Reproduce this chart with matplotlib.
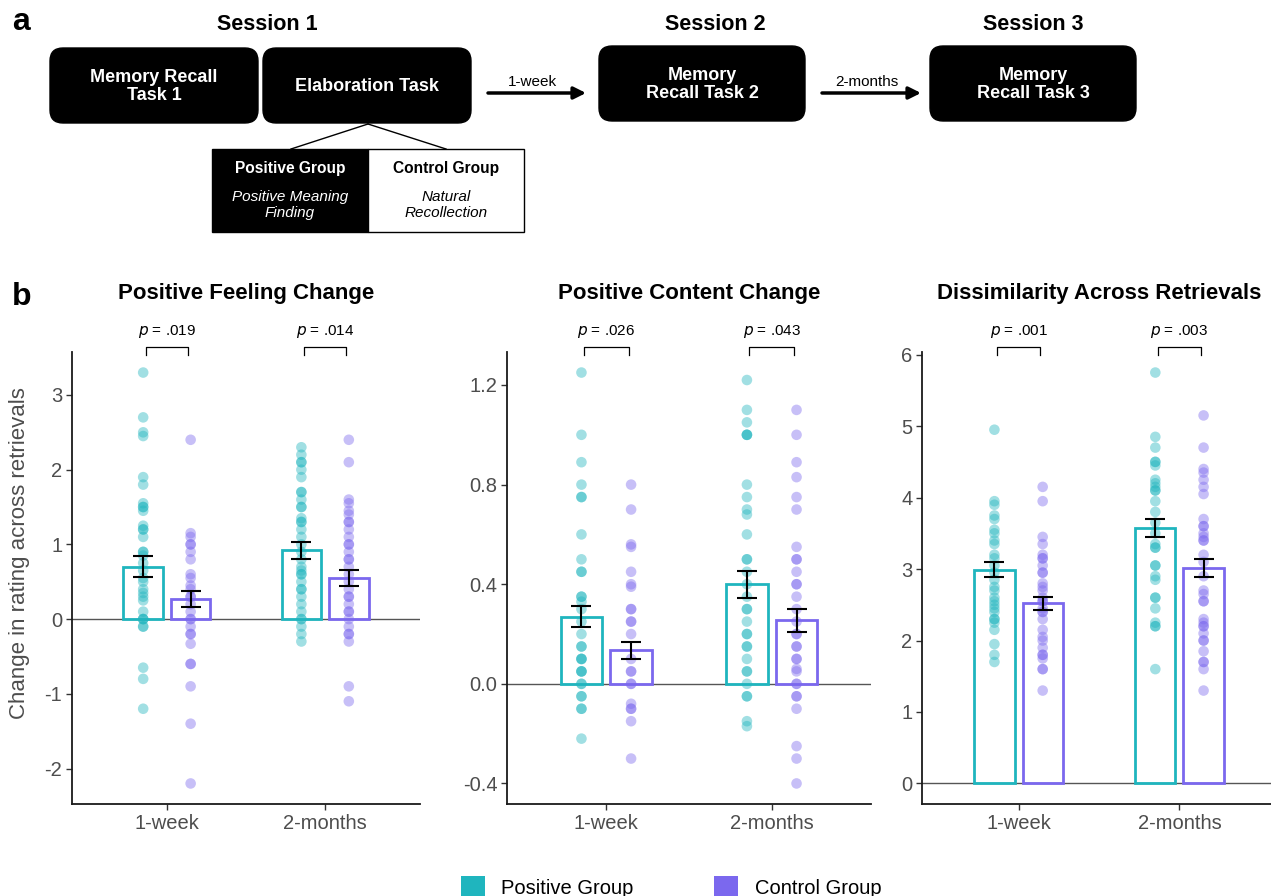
import matplotlib.pyplot as plt
from matplotlib.patches import FancyBboxPatch, Rectangle, Patch
import numpy as np

plt.rcParams['font.family'] = ['Liberation Sans', 'DejaVu Sans']

# 颜色
teal = '#1FB5BE'
purple = '#7B68EE'

timepoints = ['1-week', '2-months']
groups = ['Positive Group', 'Control Group']

# ---- Positive Feeling Change ----
feel_pos_1w = [3.3, 2.7, 2.5, 2.45, 1.9, 1.8, 1.55, 1.5, 1.5, 1.45, 1.25, 1.2, 1.2, 1.1, 0.9, 0.9,
               0.85, 0.75, 0.65, 0.55, 0.5, 0.4, 0.35, 0.3, 0.25, 0.1, 0, 0, 0, -0.1, -0.1, -0.65, -0.8, -1.2]
feel_ctrl_1w = [2.4, 1.15, 1.1, 1.0, 1.0, 0.9, 0.8, 0.6, 0.55, 0.45, 0.4, 0.3, 0.3, 0.2, 0.1, 0, 0,
                -0.1, -0.2, -0.2, -0.33, -0.6, -0.6, -0.9, -1.4, -2.2]
feel_pos_2m = [2.3, 2.2, 2.1, 2.1, 2.0, 1.9, 1.7, 1.7, 1.6, 1.5, 1.5, 1.35, 1.3, 1.3, 1.2, 1.1, 1.0,
               0.9, 0.8, 0.7, 0.65, 0.6, 0.6, 0.5, 0.4, 0.4, 0.3, 0.2, 0.1, 0, 0, -0.1, -0.2, -0.3]
feel_ctrl_2m = [2.4, 2.1, 1.6, 1.55, 1.45, 1.4, 1.3, 1.3, 1.2, 1.1, 1.0, 1.0, 0.9, 0.8, 0.8, 0.7, 0.6,
                0.5, 0.4, 0.3, 0.3, 0.2, 0.1, 0.1, 0, -0.1, -0.2, -0.2, -0.3, -0.9, -1.1]
feel_mean_pos = [0.70, 0.92]
feel_se_pos = [0.14, 0.11]
feel_mean_ctrl = [0.27, 0.55]
feel_se_ctrl = [0.11, 0.105]
feel_p = ['.019', '.014']

# ---- Positive Content Change ----
cont_pos_1w = [1.25, 1.0, 0.89, 0.8, 0.75, 0.75, 0.6, 0.5, 0.45, 0.45, 0.35, 0.35, 0.33, 0.3, 0.25,
               0.2, 0.15, 0.15, 0.1, 0.1, 0.1, 0.05, 0.05, 0.05, 0, 0, -0.05, -0.05, -0.1, -0.1, -0.22]
cont_ctrl_1w = [0.8, 0.7, 0.56, 0.55, 0.45, 0.4, 0.39, 0.3, 0.3, 0.25, 0.25, 0.2, 0.1, 0.05, 0.05,
                0, 0, -0.08, -0.1, -0.1, -0.15, -0.3]
cont_pos_2m = [1.22, 1.1, 1.05, 1.0, 1.0, 1.0, 0.8, 0.75, 0.7, 0.68, 0.6, 0.5, 0.5, 0.45, 0.4, 0.35,
               0.3, 0.3, 0.25, 0.2, 0.2, 0.15, 0.15, 0.1, 0.05, 0.05, 0, -0.05, -0.05, -0.15, -0.17]
cont_ctrl_2m = [1.1, 1.0, 0.89, 0.83, 0.75, 0.7, 0.55, 0.5, 0.5, 0.45, 0.4, 0.4, 0.35, 0.3, 0.25,
                0.2, 0.2, 0.15, 0.15, 0.1, 0.1, 0.06, 0.05, 0, 0, -0.05, -0.05, -0.1, -0.25, -0.3, -0.4]
cont_mean_pos = [0.27, 0.40]
cont_se_pos = [0.043, 0.055]
cont_mean_ctrl = [0.135, 0.255]
cont_se_ctrl = [0.035, 0.045]
cont_p = ['.026', '.043']

# ---- Dissimilarity Across Retrievals ----
diss_pos_1w = [4.95, 3.95, 3.9, 3.75, 3.7, 3.55, 3.5, 3.4, 3.35, 3.2, 3.15, 3.05, 2.95, 2.85, 2.75,
               2.7, 2.6, 2.55, 2.5, 2.45, 2.4, 2.3, 2.3, 2.25, 2.15, 1.95, 1.8, 1.7]
diss_ctrl_1w = [4.15, 3.95, 3.45, 3.35, 3.2, 3.15, 3.15, 3.05, 2.95, 2.95, 2.8, 2.75, 2.7, 2.6, 2.55,
                2.55, 2.45, 2.4, 2.4, 2.3, 2.15, 2.05, 2.0, 1.9, 1.8, 1.8, 1.75, 1.6, 1.6, 1.3]
diss_pos_2m = [5.75, 4.85, 4.7, 4.5, 4.5, 4.45, 4.25, 4.2, 4.15, 4.1, 4.1, 3.95, 3.8, 3.65, 3.5, 3.35,
               3.3, 3.3, 3.05, 3.05, 2.9, 2.85, 2.6, 2.6, 2.45, 2.25, 2.2, 2.2, 1.6]
diss_ctrl_2m = [5.15, 4.7, 4.4, 4.35, 4.25, 4.15, 4.05, 3.7, 3.6, 3.6, 3.5, 3.45, 3.4, 3.4, 3.2, 3.1,
                2.9, 2.7, 2.65, 2.55, 2.55, 2.3, 2.25, 2.2, 2.2, 2.1, 2.0, 2.0, 1.85, 1.7, 1.7, 1.6, 1.3]
diss_mean_pos = [2.99, 3.58]
diss_se_pos = [0.105, 0.125]
diss_mean_ctrl = [2.52, 3.01]
diss_se_ctrl = [0.09, 0.125]
diss_p = ['.001', '.003']

panels = [
    ('Positive Feeling Change', [feel_pos_1w, feel_pos_2m], [feel_ctrl_1w, feel_ctrl_2m],
     feel_mean_pos, feel_se_pos, feel_mean_ctrl, feel_se_ctrl, feel_p, [-2, -1, 0, 1, 2, 3], '{:.0f}'),
    ('Positive Content Change', [cont_pos_1w, cont_pos_2m], [cont_ctrl_1w, cont_ctrl_2m],
     cont_mean_pos, cont_se_pos, cont_mean_ctrl, cont_se_ctrl, cont_p, [-0.4, 0.0, 0.4, 0.8, 1.2], '{:.1f}'),
    ('Dissimilarity Across Retrievals', [diss_pos_1w, diss_pos_2m], [diss_ctrl_1w, diss_ctrl_2m],
     diss_mean_pos, diss_se_pos, diss_mean_ctrl, diss_se_ctrl, diss_p, [0, 1, 2, 3, 4, 5, 6], '{:.0f}'),
]

W, H = 1271, 896
fig = plt.figure(figsize=(W / 100, H / 100), dpi=100)

# ================= a: 实验流程图 =================
axa = fig.add_axes([0, 0, 1, 1])
axa.set_xlim(0, W)
axa.set_ylim(H, 0)
axa.axis('off')
axa.patch.set_visible(False)

def rbox(x0, y0, w, h, text):
    axa.add_patch(FancyBboxPatch((x0, y0), w, h, boxstyle='round,pad=0,rounding_size=13',
                                 facecolor='black', edgecolor='black'))
    axa.text(x0 + w / 2, y0 + h / 2 + 1, text, color='white', fontsize=13, fontweight='bold',
             ha='center', va='center', linespacing=1.1)

axa.text(12, 22, 'a', fontsize=23, fontweight='bold', ha='left', va='center')
axa.text(267, 25, 'Session 1', fontsize=15.5, fontweight='bold', ha='center', va='center')
axa.text(715, 24, 'Session 2', fontsize=15.5, fontweight='bold', ha='center', va='center')
axa.text(1033, 25, 'Session 3', fontsize=15.5, fontweight='bold', ha='center', va='center')
rbox(50, 48, 208, 75, 'Memory Recall\nTask 1')
rbox(263, 48, 208, 75, 'Elaboration Task')
rbox(599, 46, 206, 75, 'Memory\nRecall Task 2')
rbox(930, 46, 206, 75, 'Memory\nRecall Task 3')

for x0, x1, lab in [(488, 586, '1-week'), (822, 921, '2-months')]:
    axa.annotate('', xy=(x1, 93), xytext=(x0, 93),
                 arrowprops=dict(arrowstyle='-|>', color='black', lw=2.5, mutation_scale=18,
                                 shrinkA=0, shrinkB=0))
    axa.text((x0 + x1) / 2 - 5, 82, lab, fontsize=11, ha='center', va='center')

axa.plot([368, 291], [124, 149], color='black', lw=1)
axa.plot([368, 446], [124, 149], color='black', lw=1)
axa.add_patch(Rectangle((212, 149), 156, 83, facecolor='black', edgecolor='black', lw=1))
axa.add_patch(Rectangle((368, 149), 156, 83, facecolor='white', edgecolor='black', lw=1))
axa.text(290, 169, 'Positive Group', color='white', fontsize=11.2, fontweight='bold', ha='center', va='center')
axa.text(290, 205, 'Positive Meaning\nFinding', color='white', fontsize=11, style='italic',
         ha='center', va='center', linespacing=1.1)
axa.text(446, 169, 'Control Group', color='black', fontsize=11.2, fontweight='bold', ha='center', va='center')
axa.text(446, 205, 'Natural\nRecollection', color='black', fontsize=11, style='italic',
         ha='center', va='center', linespacing=1.1)

axa.text(12, 297, 'b', fontsize=23, fontweight='bold', ha='left', va='center')

# ================= b: 三个柱状图 =================
lefts = [72, 507, 922]
widths = [348, 364, 354]
bottom_px, top_px = 804, 352
off = 0.15
bw = 0.25
x = np.arange(1, len(timepoints) + 1)

for k, (title, pos_pts, ctrl_pts, mp, sp, mc, sc, pvals, yt, fmt) in enumerate(panels):
    ax = fig.add_axes([lefts[k] / W, (H - bottom_px) / H, widths[k] / W, (bottom_px - top_px) / H])
    for i in range(len(timepoints)):
        ax.scatter(np.full(len(pos_pts[i]), x[i] - off), pos_pts[i], s=58, color=teal,
                   alpha=0.42, edgecolors='none', zorder=2)
        ax.scatter(np.full(len(ctrl_pts[i]), x[i] + off), ctrl_pts[i], s=58, color=purple,
                   alpha=0.42, edgecolors='none', zorder=2)
    ax.axhline(0, color='#555555', lw=1, zorder=1)
    ax.bar(x - off, mp, width=bw, facecolor='none', edgecolor=teal, lw=2, zorder=3)
    ax.bar(x + off, mc, width=bw, facecolor='none', edgecolor=purple, lw=2, zorder=3)
    ax.errorbar(x - off, mp, yerr=sp, fmt='none', ecolor='black', elinewidth=1.5,
                capsize=7, capthick=1.5, zorder=4)
    ax.errorbar(x + off, mc, yerr=sc, fmt='none', ecolor='black', elinewidth=1.5,
                capsize=7, capthick=1.5, zorder=4)

    allv = np.concatenate([np.concatenate(pos_pts), np.concatenate(ctrl_pts), [0]])
    lo, hi = allv.min(), allv.max()
    pad = (hi - lo) * 0.05
    ax.set_ylim(lo - pad, hi + pad)
    ax.set_xlim(0.4, 2.6)

    ax.set_xticks(x)
    ax.set_xticklabels(timepoints)
    ax.set_yticks(yt)
    ax.set_yticklabels([fmt.format(v) for v in yt])
    ax.tick_params(axis='both', labelsize=14.5, labelcolor='#4D4D4D', color='#333333',
                   length=4, width=1, pad=3)
    for s in ['top', 'right']:
        ax.spines[s].set_visible(False)
    for s in ['left', 'bottom']:
        ax.spines[s].set_linewidth(1.3)
        ax.spines[s].set_color('#1a1a1a')

    ax.set_title(title, fontsize=16, fontweight='bold', pad=38)

    # p 值括号
    trans = ax.get_xaxis_transform()
    for i in range(len(timepoints)):
        xa, xb = x[i] - 0.135, x[i] + 0.135
        ax.plot([xa, xa, xb, xb], [0.993, 1.012, 1.012, 0.993], color='black', lw=0.9,
                transform=trans, clip_on=False)
        ax.text(x[i], 1.027, r'$\it{p}$ = ' + pvals[i], transform=trans, fontsize=11,
                ha='center', va='bottom')

    if k == 0:
        ax.set_ylabel('Change in rating across retrievals', fontsize=16, color='#4D4D4D')
        ax.yaxis.set_label_coords(-0.12, 0.555)

handles = [Patch(facecolor=teal, label=groups[0]), Patch(facecolor=purple, label=groups[1])]
fig.legend(handles=handles, loc='lower center', bbox_to_anchor=(0.528, -0.022), ncol=2,
           frameon=False, fontsize=14.5, handlelength=1.2, handleheight=1.2,
           columnspacing=4, handletextpad=0.8)

fig.savefig('out.png', dpi=100)
